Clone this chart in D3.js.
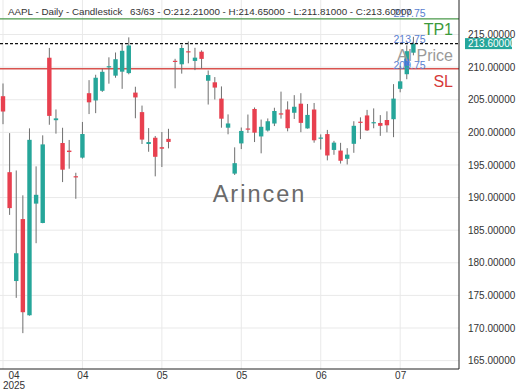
<!DOCTYPE html>
<html><head><meta charset="utf-8">
<script src="https://cdn.jsdelivr.net/npm/d3@7/dist/d3.min.js"></script>
<style>body{margin:0;background:#fff}svg{display:block;font-family:"Liberation Sans",Arial,sans-serif}</style>
</head><body><svg id="c" width="520" height="390"></svg>
<script>
const dates = ["04-03","04-04","04-07","04-08","04-09","04-10","04-11","04-14","04-15","04-16","04-17","04-21","04-22","04-23","04-24","04-25","04-28","04-29","04-30","05-01","05-02","05-05","05-06","05-07","05-08","05-09","05-12","05-13","05-14","05-15","05-16","05-19","05-20","05-21","05-22","05-23","05-27","05-28","05-29","05-30","06-02","06-03","06-04","06-05","06-06","06-09","06-10","06-11","06-12","06-13","06-16","06-17","06-18","06-20","06-23","06-24","06-25","06-26","06-27","06-30","07-01","07-02","07-03"];
const open  = [205.54,193.89,177.20,186.70,171.95,189.07,186.10,211.44,201.86,198.36,197.20,193.27,196.12,206.00,204.89,206.37,210.00,208.69,209.30,209.08,206.09,203.10,198.21,199.17,197.72,199.00,210.97,210.43,212.43,210.95,212.36,207.91,207.67,205.17,200.71,193.67,198.30,200.59,203.58,199.37,200.28,201.35,202.91,203.50,203.00,204.39,200.60,203.50,199.08,199.73,197.30,197.20,195.94,198.24,201.63,202.59,201.45,201.43,201.89,202.01,206.67,208.91,212.21];
const high  = [207.49,199.88,194.15,190.34,200.61,194.78,199.54,212.94,203.51,200.70,198.83,193.80,201.59,208.00,208.83,209.75,211.50,212.24,213.58,214.56,206.99,204.10,200.65,199.44,200.05,200.54,211.27,213.40,213.94,212.96,212.57,209.48,208.47,207.04,202.75,197.70,200.74,202.73,203.81,201.96,202.13,203.77,206.24,204.75,205.70,206.00,204.35,204.50,199.68,200.37,198.69,198.39,197.57,201.70,202.30,203.44,203.67,202.64,203.22,207.39,210.19,213.34,214.65];
const low   = [201.25,187.34,174.62,169.21,171.89,183.00,186.06,201.16,199.80,192.37,194.42,189.81,195.97,202.80,202.94,206.20,207.46,208.37,206.67,208.90,202.16,198.21,197.02,193.25,194.68,197.54,206.75,209.00,210.58,209.54,209.77,204.26,205.03,200.71,199.70,193.46,197.43,199.90,198.51,196.78,200.12,200.96,202.10,200.15,202.05,200.02,200.57,198.41,197.36,195.70,196.56,195.21,195.07,196.86,198.96,200.20,200.62,199.46,200.00,199.26,206.14,208.14,211.81];
const close = [203.19,188.38,181.46,172.42,198.85,190.42,198.15,202.52,202.14,194.27,196.98,193.16,199.74,204.60,208.37,209.28,210.14,211.21,212.50,213.32,205.35,198.89,198.51,196.25,197.49,198.53,210.79,212.93,212.33,211.45,211.26,208.78,206.86,202.09,201.36,195.27,200.21,200.42,199.95,200.85,201.70,203.27,202.82,200.63,203.92,201.45,202.67,198.78,199.20,196.45,198.42,195.64,196.58,201.00,201.50,200.30,201.56,201.00,201.08,205.17,207.82,212.44,213.60];

const yTicks = [165,170,175,180,185,190,195,200,205,210,215];
const xTickIdx = [0,12,24,36,48,60];
const xTickLabels = ["04","04","05","05","06","07"];
const yearLabel = "2025";
const currentPrice = 213.60;
const tpLevel = 217.4;
const slLevel = 209.75;
const levelLabels = [217.75,213.75,209.75];
const aiPrice = 210.75;
const aiIndex = 61;
const header1 = "AAPL - Daily - Candlestick";
const header2 = "63/63 - O:212.21000 - H:214.65000 - L:211.81000 - C:213.60000";

const svg = d3.select("#c");
const W = 459, B = 369;
const x = d3.scaleLinear().domain([0, 62]).range([3, 413.4]);
const y = d3.scaleLinear().domain([165, 215]).range([360.6, 34.5]);

svg.append("g").selectAll("line").data(yTicks).join("line")
  .attr("x1",0).attr("x2",W).attr("y1",d=>y(d)).attr("y2",d=>y(d))
  .attr("stroke","#e9e9e9").attr("stroke-width",1);
svg.append("g").selectAll("line").data(xTickIdx).join("line")
  .attr("x1",d=>x(d)).attr("x2",d=>x(d)).attr("y1",0).attr("y2",B)
  .attr("stroke","#e9e9e9").attr("stroke-width",1);

svg.append("line").attr("x1",0).attr("x2",W).attr("y1",y(tpLevel)).attr("y2",y(tpLevel))
  .attr("stroke","#4a994a").attr("stroke-width",1.3);
svg.append("line").attr("x1",0).attr("x2",W).attr("y1",y(slLevel)).attr("y2",y(slLevel))
  .attr("stroke","#d9534f").attr("stroke-width",1.3);

const idx = d3.range(open.length);
const bw = 4.4;
const g = svg.append("g");
g.selectAll("line.w").data(idx).join("line").attr("class","w")
  .attr("x1",i=>x(i)).attr("x2",i=>x(i)).attr("y1",i=>y(high[i])).attr("y2",i=>y(low[i]))
  .attr("stroke","#6f6f6f").attr("stroke-width",1);
g.selectAll("rect").data(idx).join("rect")
  .attr("x",i=>x(i)-bw/2).attr("width",bw)
  .attr("y",i=>y(Math.max(open[i],close[i])))
  .attr("height",i=>Math.max(1.2, Math.abs(y(open[i])-y(close[i]))))
  .attr("fill",i=>close[i]>=open[i]?"#26a69a":"#e8404f");

svg.append("line").attr("x1",0).attr("x2",W).attr("y1",y(currentPrice)).attr("y2",y(currentPrice))
  .attr("stroke","#111").attr("stroke-width",1.2).attr("stroke-dasharray","3,2");

svg.append("rect").attr("x",x(aiIndex)-2.5).attr("y",y(aiPrice)-3.5).attr("width",5).attr("height",7)
  .attr("fill","#3f7ad6");

svg.append("g").selectAll("text").data(levelLabels).join("text")
  .attr("x",x(aiIndex)+2.8).attr("y",d=>y(d)+0.5).attr("text-anchor","middle")
  .attr("font-size","10.5px").attr("fill","#5b7fd0").text(d=>d.toFixed(2));

svg.append("text").attr("x",453).attr("y",35).attr("text-anchor","end").attr("font-size","16px").attr("fill","#3c9a3c").text("TP1");
svg.append("text").attr("x",453).attr("y",61).attr("text-anchor","end").attr("font-size","16px").attr("fill","#9a9a9a").text("AI Price");
svg.append("text").attr("x",453).attr("y",87).attr("text-anchor","end").attr("font-size","16px").attr("fill","#d63a3a").text("SL");

svg.append("text").attr("x",259.5).attr("y",201.7).attr("text-anchor","middle").attr("font-size","23.5px")
  .attr("letter-spacing","2px").attr("fill","#6a6a6a").text("Arincen");

svg.append("text").attr("x",8).attr("y",14.5).attr("font-size","9.8px").attr("fill","#333").text(header1);
svg.append("text").attr("x",130).attr("y",14.5).attr("font-size","9.8px").attr("fill","#333").text(header2);

svg.append("line").attr("x1",W).attr("x2",W).attr("y1",0).attr("y2",B).attr("stroke","#222").attr("stroke-width",1);
svg.append("line").attr("x1",0).attr("x2",W).attr("y1",B).attr("y2",B).attr("stroke","#222").attr("stroke-width",1);

const ya = svg.append("g").attr("transform",`translate(${W},0)`)
  .call(d3.axisRight(y).tickValues(yTicks).tickFormat(d3.format(".5f")).tickSize(0).tickPadding(9));
ya.select(".domain").remove();
ya.selectAll("text").attr("font-size","10px").attr("fill","#333").attr("font-family","Liberation Sans, Arial, sans-serif");

svg.append("rect").attr("x",465).attr("y",y(currentPrice)-5.5).attr("width",47).attr("height",11).attr("fill","#26a69a");
svg.append("text").attr("x",468).attr("y",y(currentPrice)).attr("dy","0.32em").attr("font-size","10px").attr("fill","#fff").text(currentPrice.toFixed(5));

const xa = svg.append("g").attr("transform",`translate(0,${B})`)
  .call(d3.axisBottom(x).tickValues(xTickIdx).tickFormat((d,i)=>xTickLabels[i]).tickSize(0).tickPadding(3));
xa.select(".domain").remove();
xa.selectAll("text").attr("font-size","10px").attr("fill","#333").attr("font-family","Liberation Sans, Arial, sans-serif");
xa.selectAll(".tick").filter((d,i)=>i===0).select("text").attr("x",10.5);
xa.selectAll(".tick").filter((d,i)=>i===0).append("text").attr("x",10.5).attr("y",3).attr("dy","1.71em")
  .attr("text-anchor","middle").attr("font-size","10px").attr("fill","#333").text(yearLabel);
</script></body></html>
